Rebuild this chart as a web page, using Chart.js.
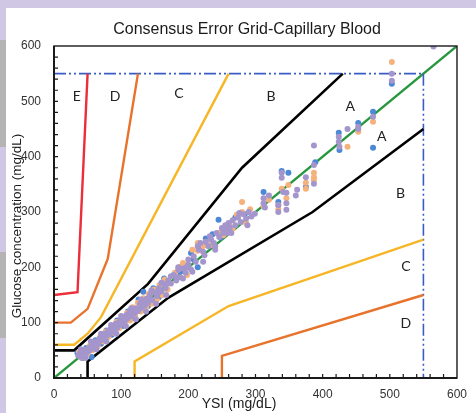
<!DOCTYPE html>
<html>
<head>
<meta charset="utf-8">
<script src="https://cdn.jsdelivr.net/npm/chart.js@4.4.1/dist/chart.umd.min.js"></script>
<style>
  html, body { margin: 0; padding: 0; }
  body { width: 476px; height: 413px; background: #d0c7e5; position: relative; overflow: hidden; }
  .band { position: absolute; left: 0; width: 6px; background: #b4b4b4; }
  #panel { position: absolute; left: 6px; top: 8px; right: 0; bottom: 0; background: #fff; }
  #wrap { position: absolute; left: 0; top: 0; width: 476px; height: 413px; }
</style>
</head>
<body>
<div class="band" style="top:40px;height:107px"></div>
<div class="band" style="top:252px;height:86px"></div>
<div id="panel"></div>
<div id="wrap"><canvas id="egChart"></canvas></div>
<script>
/* ---------- texts ---------- */
var chartTitle = 'Consensus Error Grid-Capillary Blood';
var xTitle = 'YSI (mg/dL)';
var yTitle = 'Glucose concentration (mg/dL)';

/* ---------- axis ---------- */
var axisMin = 0;
var axisMax = 600;
var axisStep = 100;
var minorStep = 20;

/* ---------- zone boundaries (consensus grid) ---------- */
var aUpperX = [0, 30, 140, 280, 430];
var aUpperY = [50, 50, 170, 380, 550];
var aLowerX = [50, 50, 170, 385, 550];
var aLowerY = [0, 30, 145, 300, 450];
var bUpperX = [0, 30, 50, 70, 260];
var bUpperY = [60, 60, 80, 110, 550];
var bLowerX = [120, 120, 260, 550];
var bLowerY = [0, 30, 130, 250];
var cUpperX = [0, 25, 50, 80, 125];
var cUpperY = [100, 100, 125, 215, 550];
var cLowerX = [250, 250, 550];
var cLowerY = [0, 40, 150];
var dUpperX = [0, 35, 50];
var dUpperY = [150, 155, 550];
var idealX = [0, 600];
var idealY = [0, 600];
var limitHX = [0, 550];
var limitHY = [550, 550];
var limitVX = [550, 550];
var limitVY = [550, 0];

/* ---------- zone letters ---------- */
var zoneLetters = ['E', 'D', 'C', 'B', 'A', 'A', 'B', 'C', 'D'];
var zoneLetterX = [34, 91, 186, 323, 441, 488, 516, 524, 524];
var zoneLetterY = [508, 508, 515, 508, 490, 436, 334, 201, 99];

var purpleX = [36, 38, 40, 42, 44, 46, 48, 50, 52, 54, 56, 58, 60, 62, 64, 66, 68, 70, 72, 74,
  76, 78, 80, 82, 84, 86, 88, 90, 92, 94, 96, 98, 100, 102, 104, 106, 108, 110, 112, 115,
  118, 120, 122, 125, 128, 130, 132, 135, 138, 140, 143, 146, 150, 153, 156, 160, 163, 166, 170, 174,
  178, 182, 185, 188, 192, 196, 200, 204, 208, 211, 214, 218, 222, 226, 230, 234, 238, 242, 246, 250,
  252, 256, 260, 262, 266, 270, 274, 278, 282, 286, 290, 294, 299,
  45, 58, 72, 86, 99, 113, 127, 141, 155, 168, 184, 197, 224, 240, 258,
  40, 47, 55, 63, 70, 78, 85, 93, 100, 107, 115, 122, 130, 137, 145, 152, 160, 167, 174,
  185, 192, 200, 206, 216, 222, 232, 240, 255, 264, 276, 288,
  312, 312, 314, 320, 334, 334, 339, 339, 341, 346, 346, 346, 360, 362, 375, 387, 387, 387,
  424, 424, 425, 437, 453, 453, 475, 503, 503, 565];
var purpleY = [40, 44, 38, 47, 42, 50, 45, 52, 49, 56, 53, 60, 57, 66, 60, 63, 72, 68, 74, 70,
  80, 76, 84, 79, 88, 83, 92, 87, 98, 91, 100, 96, 106, 99, 110, 104, 114, 108, 118, 112,
  123, 117, 126, 121, 134, 127, 138, 131, 143, 136, 150, 141, 155, 148, 162, 157, 170, 162, 176, 171,
  186, 176, 195, 182, 198, 190, 205, 196, 220, 210, 238, 244, 228, 246, 238, 250, 244, 262, 255, 271,
  262, 268, 280, 272, 285, 276, 290, 282, 296, 288, 300, 292, 297,
  45, 58, 71, 88, 97, 115, 125, 143, 153, 170, 182, 200, 222, 238, 262,
  52, 36, 66, 52, 80, 66, 96, 80, 112, 94, 126, 106, 142, 120, 158, 134, 172, 150, 184,
  200, 180, 214, 192, 232, 210, 256, 232, 276, 262, 298, 276,
  325, 316, 308, 330, 300, 312, 371, 362, 336, 335, 316, 304, 330, 340, 363, 385, 351, 420,
  436, 427, 418, 450, 454, 450, 472, 550, 537, 599];

var orangeX = [37, 41, 45, 49, 53, 57, 61, 65, 69, 73, 77, 81, 85, 89, 93, 97, 101, 105, 109, 113,
  117, 121, 125, 129, 133, 137, 141, 145, 149, 153, 157, 161, 165, 169,
  180, 188, 192, 198, 206, 214, 214, 220, 226, 226, 233, 245, 252, 261, 266, 272, 280, 280, 286, 292,
  312, 320, 334, 334, 339, 349, 346, 375, 375, 387, 387, 387, 437, 453, 475, 503];
var orangeY = [46, 37, 50, 43, 58, 50, 64, 57, 75, 66, 84, 74, 92, 82, 101, 90, 110, 98, 118, 104,
  128, 112, 136, 120, 144, 128, 152, 134, 160, 142, 168, 150, 178, 160,
  190, 201, 208, 186, 232, 244, 230, 235, 246, 240, 240, 262, 258, 277, 270, 295, 318, 300, 280, 305,
  310, 322, 312, 305, 342, 349, 325, 353, 342, 371, 363, 358, 418, 445, 463, 571];

var blueX = [35, 42, 48, 56, 62, 70, 78, 86, 94, 102, 110, 118, 126, 133, 140, 148, 156, 164,
  188, 196, 204, 208, 214, 226, 236, 245, 251, 248, 262, 270, 284,
  312, 334, 339, 349, 375, 389, 424, 425, 453, 475, 475, 503];
var blueY = [45, 36, 54, 38, 68, 62, 86, 78, 104, 94, 120, 108, 142, 156, 130, 162, 146, 180,
  192, 202, 226, 214, 200, 252, 260, 286, 268, 254, 270, 290, 296,
  336, 318, 374, 371, 345, 390, 443, 412, 461, 481, 416, 532];

/* ---------------------------------------------------------
   helpers
   --------------------------------------------------------- */
function toPoints(xs, ys) {
  return xs.map(function (x, i) { return { x: x, y: ys[i] }; });
}

function lineSet(xs, ys, color, width, dash) {
  return {
    data: toPoints(xs, ys),
    showLine: true,
    borderColor: color,
    borderWidth: width,
    borderDash: dash || [],
    pointRadius: 0,
    fill: false,
    tension: 0
  };
}

function dotSet(xs, ys, color) {
  return {
    data: toPoints(xs, ys),
    backgroundColor: color,
    borderWidth: 0,
    pointRadius: 3
  };
}

/* ---------------------------------------------------------
   box, inward ticks, titles and zone letters
   --------------------------------------------------------- */
var gridDecor = {
  id: 'gridDecor',
  afterDatasetsDraw: function (chart) {
    var c = chart.ctx;
    var a = chart.chartArea;
    var sx = chart.scales.x;
    var sy = chart.scales.y;
    c.save();

    // frame
    c.strokeStyle = '#1a1a1a';
    c.lineWidth = 1.4;
    c.strokeRect(a.left, a.top, a.right - a.left, a.bottom - a.top);
    c.lineWidth = 2;
    c.beginPath();
    c.moveTo(a.left, a.top);
    c.lineTo(a.left, a.bottom);
    c.lineTo(a.right, a.bottom);
    c.stroke();

    // inward minor ticks
    c.lineWidth = 1.2;
    c.beginPath();
    for (var v = axisMin + minorStep; v < axisMax; v += minorStep) {
      var px = sx.getPixelForValue(v);
      c.moveTo(px, a.bottom);
      c.lineTo(px, a.bottom - 4);
      var py = sy.getPixelForValue(v);
      c.moveTo(a.left, py);
      c.lineTo(a.left + 4, py);
    }
    c.stroke();

    // zone letters
    c.fillStyle = '#222';
    c.font = '14px Lato, "Open Sans", sans-serif';
    c.textAlign = 'center';
    c.textBaseline = 'middle';
    zoneLetters.forEach(function (t, i) {
      c.fillText(t, sx.getPixelForValue(zoneLetterX[i]), sy.getPixelForValue(zoneLetterY[i]));
    });

    // chart title
    c.fillStyle = '#1a1a1a';
    c.font = '16px "Liberation Sans", Arial, sans-serif';
    c.fillText(chartTitle, 247, 30);

    // axis titles
    c.font = '14px "Liberation Sans", Arial, sans-serif';
    c.fillText(xTitle, 239, 404);
    c.translate(17, 226);
    c.rotate(-Math.PI / 2);
    c.font = '13.5px "Liberation Sans", Arial, sans-serif';
    c.fillText(yTitle, 0, 0);
    c.restore();
  }
};

/* ---------------------------------------------------------
   chart  (first dataset is drawn on top)
   --------------------------------------------------------- */
var tickFont = { family: '"Liberation Sans", Arial, sans-serif', size: 12 };

new Chart(document.getElementById('egChart'), {
  type: 'scatter',
  data: {
    datasets: [
      dotSet(purpleX, purpleY, '#a496cc'),
      dotSet(orangeX, orangeY, '#f6b27c'),
      dotSet(blueX, blueY, '#4d88d6'),
      lineSet(aUpperX, aUpperY, '#000000', 2.6),
      lineSet(aLowerX, aLowerY, '#000000', 2.6),
      lineSet(bUpperX, bUpperY, '#f6b626', 2.4),
      lineSet(bLowerX, bLowerY, '#f6b626', 2.4),
      lineSet(cUpperX, cUpperY, '#e8732c', 2.4),
      lineSet(cLowerX, cLowerY, '#e8732c', 2.4),
      lineSet(dUpperX, dUpperY, '#ec2d3a', 2.4),
      lineSet(limitHX, limitHY, '#3a5cc6', 1.6, [12, 3, 2, 3, 2, 3]),
      lineSet(limitVX, limitVY, '#3a5cc6', 1.6, [12, 3, 2, 3, 2, 3]),
      lineSet(idealX, idealY, '#27973f', 2.4)
    ]
  },
  options: {
    responsive: true,
    maintainAspectRatio: false,
    animation: false,
    layout: { padding: { top: 46, right: 13, left: 0, bottom: 0 } },
    plugins: {
      legend: { display: false },
      tooltip: { enabled: false },
      title: { display: false }
    },
    scales: {
      x: {
        min: axisMin,
        max: axisMax,
        ticks: { stepSize: axisStep, color: '#333', font: tickFont, padding: 9 },
        grid: { display: false, drawTicks: false },
        border: { display: false },
        afterFit: function (s) { s.height = 35; }
      },
      y: {
        min: axisMin,
        max: axisMax,
        ticks: { stepSize: axisStep, color: '#333', font: tickFont, padding: 13 },
        grid: { display: false, drawTicks: false },
        border: { display: false },
        afterFit: function (s) { s.width = 54; }
      }
    }
  },
  plugins: [gridDecor]
});
</script>
</body>
</html>
